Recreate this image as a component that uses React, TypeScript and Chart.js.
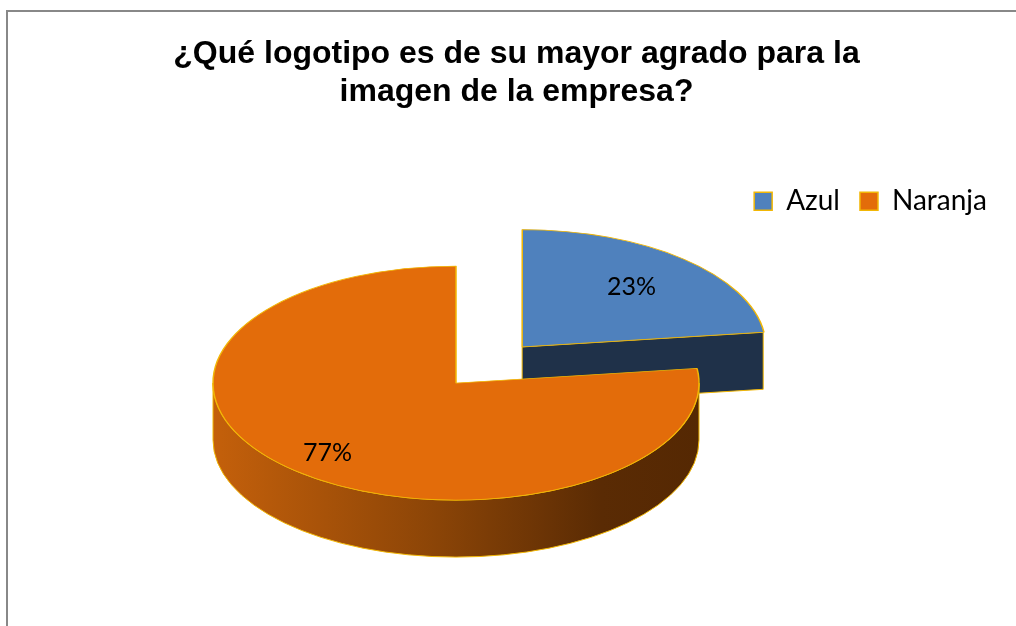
import React, { useEffect, useRef } from 'react';
import { Chart, registerables, layouts } from 'chart.js';

Chart.register(...registerables);

// ---- data ----
const TITLE_LINES = ['¿Qué logotipo es de su mayor agrado para la', 'imagen de la empresa?'];
const CATEGORIES = ['Azul', 'Naranja'];
const VALUES = [23, 77];

// ---- styles ----
const TOP_COLORS = ['#4F81BD', '#E36C0A'];
const CUT_COLORS = ['#1F3149', '#7A3A05'];
const WALL_STOPS = [
  ['#2C4A70', '#1F3149'],
  ['#C4600B', '#8C4507', '#5A2B04', '#552803'],
];
const EXPLODE = [400, 0]; // chart.js arc offset (draw translates by offset/4)
const LABEL_FRACTION = [0.68, 0.8];
const EDGE_COLOR = '#F2B705';
const TILT = 0.4815; // vertical squash of the pie
const DEPTH = 57; // thickness of the pie in px
const RADIUS = 243;
const SPACER = 121;
const FRAME_COLOR = '#888888';

function makeSpacer() {
  return {
    position: 'right',
    weight: 0,
    fullSize: false,
    options: {},
    left: 0, top: 0, right: 0, bottom: 0, width: 0, height: 0,
    update(maxWidth: number, maxHeight: number) {
      this.width = SPACER;
      this.height = maxHeight;
    },
    isHorizontal() { return false; },
    draw() {},
  };
}

function arcGeom(arc: any) {
  const x = arc.x, y = arc.y, s = arc.startAngle, e = arc.endAngle, R = arc.outerRadius;
  const off = (arc.options.offset || 0) / 4;
  const mid = (s + e) / 2;
  const ox = x + Math.cos(mid) * off;
  const oy = y + Math.sin(mid) * off * TILT;
  return { x, y, s, e, R, mid, ox, oy, ry: R * TILT };
}

const pie3d = {
  id: 'pie3d',
  beforeInit(chart: any) {
    layouts.addBox(chart, makeSpacer() as any);
  },
  beforeDraw(chart: any) {
    const ctx = chart.ctx;
    ctx.save();
    ctx.strokeStyle = FRAME_COLOR;
    ctx.lineWidth = 2;
    ctx.beginPath();
    ctx.moveTo(7, chart.height);
    ctx.lineTo(7, 11);
    ctx.lineTo(chart.width, 11);
    ctx.stroke();
    ctx.restore();
  },
  beforeDatasetsDraw(chart: any) {
    const ctx = chart.ctx;
    const meta = chart.getDatasetMeta(0);
    meta.data.forEach((arc: any, i: number) => {
      const g = arcGeom(arc);
      if (![g.ox, g.oy, g.R].every(Number.isFinite)) return;
      // outer wall (front half only)
      for (const k of [-2 * Math.PI, 0, 2 * Math.PI]) {
        const lo = Math.max(g.s, k), hi = Math.min(g.e, k + Math.PI);
        if (hi - lo <= 1e-4) continue;
        const grad = ctx.createLinearGradient(g.ox - g.R, 0, g.ox + g.R, 0);
        const stops = WALL_STOPS[i];
        const pos = stops.length === 4 ? [0, 0.45, 0.8, 1] : stops.map((_: string, j: number) => j / (stops.length - 1));
        stops.forEach((c: string, j: number) => grad.addColorStop(pos[j], c));
        ctx.save();
        ctx.beginPath();
        ctx.ellipse(g.ox, g.oy, g.R, g.ry, 0, lo, hi, false);
        ctx.lineTo(g.ox + g.R * Math.cos(hi), g.oy + g.ry * Math.sin(hi) + DEPTH);
        ctx.ellipse(g.ox, g.oy + DEPTH, g.R, g.ry, 0, hi, lo, true);
        ctx.closePath();
        ctx.fillStyle = grad;
        ctx.fill();
        ctx.strokeStyle = EDGE_COLOR;
        ctx.lineWidth = 1;
        ctx.stroke();
        ctx.restore();
      }
      // radial cut faces facing the viewer
      const faces: number[] = [];
      if (Math.cos(g.s) < -1e-3) faces.push(g.s);
      if (Math.cos(g.e) > 1e-3) faces.push(g.e);
      faces.forEach((a) => {
        const px = g.ox + g.R * Math.cos(a), py = g.oy + g.ry * Math.sin(a);
        ctx.save();
        ctx.beginPath();
        ctx.moveTo(g.ox, g.oy);
        ctx.lineTo(px, py);
        ctx.lineTo(px, py + DEPTH);
        ctx.lineTo(g.ox, g.oy + DEPTH);
        ctx.closePath();
        ctx.fillStyle = CUT_COLORS[i];
        ctx.fill();
        ctx.strokeStyle = EDGE_COLOR;
        ctx.lineWidth = 1;
        ctx.stroke();
        ctx.restore();
      });
    });
    // squash the top faces drawn by chart.js
    const a0 = meta.data[0];
    const cy = a0 ? a0.y : 0;
    ctx.save();
    ctx.translate(0, cy);
    ctx.scale(1, TILT);
    ctx.translate(0, -cy);
  },
  afterDatasetsDraw(chart: any) {
    const ctx = chart.ctx;
    ctx.restore();
    const meta = chart.getDatasetMeta(0);
    const data = chart.data.datasets[0].data as number[];
    const total = data.reduce((a, b) => a + b, 0);
    ctx.save();
    ctx.font = '25px Lato';
    ctx.fillStyle = '#000';
    ctx.textAlign = 'center';
    ctx.textBaseline = 'middle';
    meta.data.forEach((arc: any, i: number) => {
      const g = arcGeom(arc);
      const r = g.R * LABEL_FRACTION[i];
      const x = g.ox + Math.cos(g.mid) * r;
      const y = g.oy + Math.sin(g.mid) * r * TILT;
      ctx.fillText(Math.round((data[i] / total) * 100) + '%', x, y);
    });
    ctx.restore();
  },
};

export default function App() {
  const ref = useRef<HTMLCanvasElement | null>(null);
  useEffect(() => {
    if (!ref.current) return;
    const chart = new Chart(ref.current, {
      type: 'pie',
      data: {
        labels: CATEGORIES,
        datasets: [
          {
            data: VALUES,
            backgroundColor: TOP_COLORS,
            borderColor: EDGE_COLOR,
            borderWidth: 1.5,
            offset: EXPLODE,
            clip: false as any,
          } as any,
        ],
      },
      options: {
        responsive: false,
        animation: false,
        events: [],
        radius: RADIUS,
        cutout: '0%',
        layout: { padding: { left: 26, right: 9, top: 0, bottom: 85 } },
        plugins: {
          tooltip: { enabled: false },
          title: {
            display: true,
            text: TITLE_LINES,
            color: '#000',
            font: { family: '"Liberation Sans", Arial, sans-serif', size: 32, weight: 'bold', lineHeight: 1.19 },
            padding: { top: 35, bottom: 56 },
          },
          legend: {
            display: true,
            position: 'top',
            align: 'end',
            labels: {
              color: '#000',
              font: { family: 'Lato', size: 28 },
              boxWidth: 18,
              boxHeight: 18,
              padding: 20,
            },
          },
        },
      } as any,
      plugins: [pie3d as any],
    });
    return () => chart.destroy();
  }, []);
  return (
    <div style={{ position: 'fixed', left: 0, top: 0, width: 1016, height: 626, background: '#fff' }}>
      <canvas ref={ref} width={1016} height={626} style={{ width: 1016, height: 626, display: 'block' }} />
    </div>
  );
}
